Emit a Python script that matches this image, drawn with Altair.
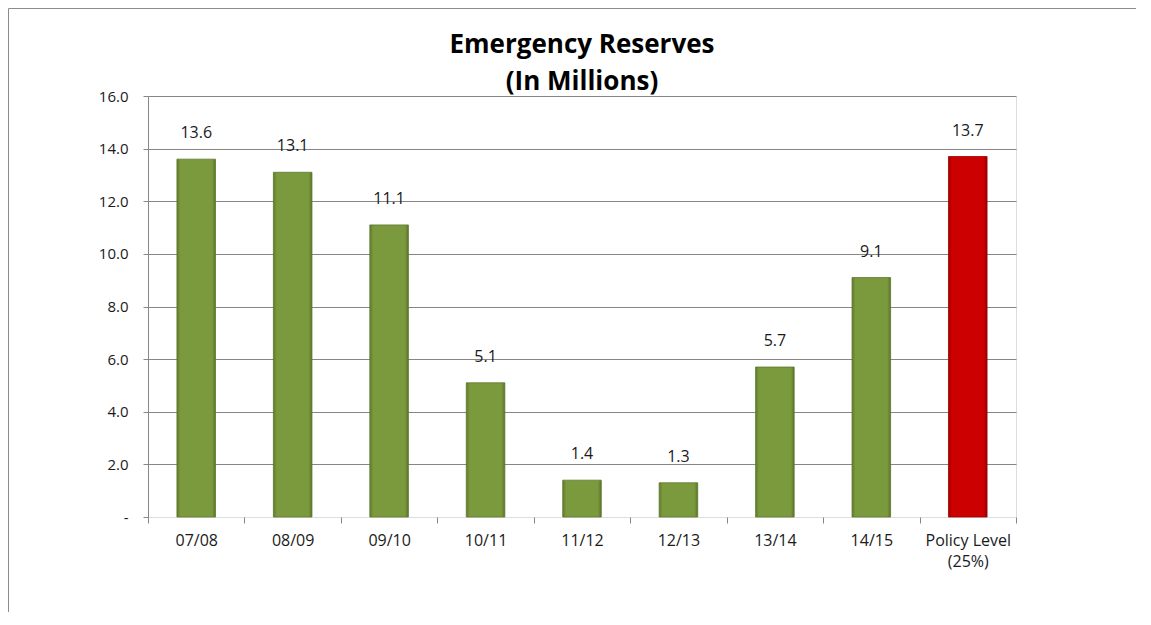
import altair as alt
import pandas as pd

categories = ["07/08", "08/09", "09/10", "10/11", "11/12", "12/13", "13/14", "14/15", "Policy Level\n(25%)"]
values = [13.6, 13.1, 11.1, 5.1, 1.4, 1.3, 5.7, 9.1, 13.7]
kinds = ["actual"] * 8 + ["policy"]
y_ticks = [0, 2, 4, 6, 8, 10, 12, 14, 16]

df = pd.DataFrame({"period": categories, "reserve": values, "kind": kinds})

FONT = "Open Sans"
GRID = "#868686"

green_fill = alt.LinearGradient(
    gradient="linear", x1=0, x2=1, y1=0, y2=0,
    stops=[
        alt.GradientStop(offset=0, color="#5f7a2d"),
        alt.GradientStop(offset=0.09, color="#7b9a3e"),
        alt.GradientStop(offset=0.91, color="#7b9a3e"),
        alt.GradientStop(offset=1, color="#5a742a"),
    ],
)
red_fill = alt.LinearGradient(
    gradient="linear", x1=0, x2=1, y1=0, y2=0,
    stops=[
        alt.GradientStop(offset=0, color="#a30000"),
        alt.GradientStop(offset=0.09, color="#cc0000"),
        alt.GradientStop(offset=0.91, color="#cc0000"),
        alt.GradientStop(offset=1, color="#9c0000"),
    ],
)

x_enc = alt.X(
    "period:N",
    sort=categories,
    scale=alt.Scale(paddingInner=0, paddingOuter=0),
    axis=alt.Axis(
        title=None,
        labelAngle=0,
        labelFont=FONT,
        labelFontSize=16,
        labelColor="#1a1a1a",
        labelPadding=9,
        labelExpr="split(datum.label, '\\n')",
        labelLineHeight=21,
        domain=False,
        ticks=True,
        tickBand="extent",
        tickColor=GRID,
        tickSize=6,
        grid=False,
    ),
)
y_enc = alt.Y(
    "reserve:Q",
    scale=alt.Scale(domain=[0, 16], nice=False),
    axis=alt.Axis(
        title=None,
        values=y_ticks,
        labelExpr="datum.value == 0 ? '-' : format(datum.value, '.1f')",
        labelFont=FONT,
        labelFontSize=15,
        labelColor="#1a1a1a",
        labelPadding=15,
        domainColor=GRID,
        tickColor=GRID,
        tickSize=5,
        gridColor=GRID,
        gridOpacity={"condition": {"test": "datum.value == 0", "value": 0}, "value": 1},
    ),
)

base = alt.Chart(df)

frame = alt.Chart(pd.DataFrame({"f": [0]})).mark_rect(
    fill=None, stroke="#8c8c8c", strokeWidth=1
).encode(
    x=alt.value(-139.5), x2=alt.value(3000), y=alt.value(-87.5), y2=alt.value(3000)
)

green_bars = base.transform_filter("datum.kind == 'actual'").mark_bar(
    width=alt.RelativeBandSize(0.4), color=green_fill, stroke="#5d772c", strokeWidth=0.8
).encode(x=x_enc, y=y_enc)

red_bars = base.transform_filter("datum.kind == 'policy'").mark_bar(
    width=alt.RelativeBandSize(0.4), color=red_fill, stroke="#980000", strokeWidth=0.8
).encode(x=x_enc, y=y_enc)

labels = base.mark_text(
    font=FONT, fontSize=16, color="#1a1a1a", dy=-26, baseline="middle"
).encode(x=x_enc, y=y_enc, text=alt.Text("reserve:Q", format=".1f"))

chart = alt.layer(frame, green_bars, red_bars, labels).properties(
    width=868,
    height=421,
    padding={"left": 140, "top": 88, "right": 120, "bottom": 95},
    autosize=alt.AutoSizeParams(type="none"),
    title=alt.Title(
        ["Emergency Reserves", "(In Millions)"],
        font=FONT,
        fontSize=26,
        fontWeight="bold",
        color="#000000",
        anchor="middle",
        frame="group",
        lineHeight=37,
        offset=0,
        dy=87,
    ),
).configure_view(stroke=None).configure(background="white")

chart.save("out.html", embed_options={"renderer": "svg", "actions": False})
